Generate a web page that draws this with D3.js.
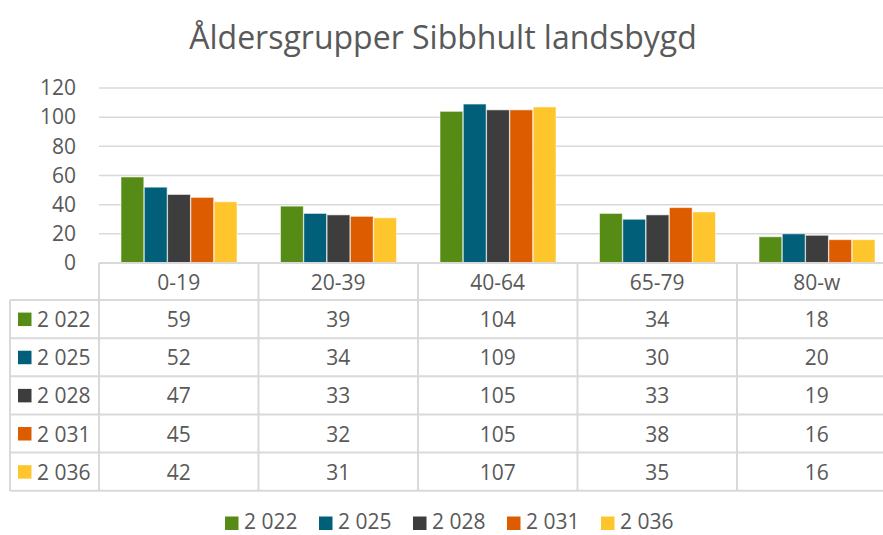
<!DOCTYPE html>
<html>
<head>
<meta charset="utf-8">
<script src="https://cdn.jsdelivr.net/npm/d3@7"></script>
<style>
  body { margin: 0; background: #fff; }
  text { font-family: "Open Sans", sans-serif; fill: #595959; }
</style>
</head>
<body>
<div id="chart-holder"></div>
<script>
// data
var categories = ['0-19', '20-39', '40-64', '65-79', '80-w'];
var seriesNames = ['2 022', '2 025', '2 028', '2 031', '2 036'];
var values2022 = [59, 39, 104, 34, 18];
var values2025 = [52, 34, 109, 30, 20];
var values2028 = [47, 33, 105, 33, 19];
var values2031 = [45, 32, 105, 38, 16];
var values2036 = [42, 31, 107, 35, 16];
var yTicks = [0, 20, 40, 60, 80, 100, 120];
var colors = ['#568C15', '#015F7A', '#3D3D3D', '#DE5C00', '#FFC52D'];

var seriesValues = [values2022, values2025, values2028, values2031, values2036];

function buildChart(containerId) {
    var width = 883;
    var height = 535;

    // plot area (extends past the right edge, like the original)
    var plotLeft = 99;
    var plotRight = 896.5;
    var plotTop = 88;
    var plotBottom = 263;

    // table geometry
    var tableLeft = 10;
    var headerBottom = 300;
    var rowHeight = 38.15;

    var svg = d3
        .select(containerId)
        .append('svg')
        .attr('width', width)
        .attr('height', height);

    // scales
    var x = d3
        .scaleBand()
        .domain(categories)
        .range([plotLeft, plotRight])
        .padding(0);

    var xInner = d3
        .scaleBand()
        .domain(seriesNames)
        .range([22, 138])
        .paddingInner(0.02);

    var y = d3
        .scaleLinear()
        .domain([0, 120])
        .range([plotBottom, plotTop]);

    // gridlines
    svg
        .append('g')
        .selectAll('line')
        .data(yTicks.slice(1))
        .enter()
        .append('line')
        .attr('x1', plotLeft)
        .attr('x2', plotRight)
        .attr('y1', function(d) { return y(d); })
        .attr('y2', function(d) { return y(d); })
        .attr('stroke', '#D9D9D9')
        .attr('stroke-width', 1.5);

    // y axis labels
    var yAxis = d3.axisLeft(y).tickValues(yTicks).tickSize(0).tickPadding(0);
    var yg = svg
        .append('g')
        .attr('class', 'y-axis')
        .attr('transform', 'translate(76,0)')
        .call(yAxis);
    yg.select('.domain').remove();
    yg.selectAll('text')
        .style('font-size', '21px')
        .attr('fill', '#595959');

    // bars
    seriesNames.forEach(function(name, si) {
        svg
            .append('g')
            .selectAll('rect')
            .data(seriesValues[si])
            .enter()
            .append('rect')
            .attr('x', function(d, i) { return x(categories[i]) + xInner(name); })
            .attr('y', function(d) { return y(d); })
            .attr('width', xInner.bandwidth())
            .attr('height', function(d) { return plotBottom - y(d); })
            .attr('fill', colors[si])
            .attr('stroke', 'rgba(255,255,255,0.55)')
            .attr('stroke-width', 1);
    });

    // data table lines
    var tableBottom = headerBottom + rowHeight * seriesNames.length;
    var lines = svg.append('g').attr('stroke', '#D9D9D9').attr('stroke-width', 2);

    lines.append('line')
        .attr('x1', plotLeft).attr('x2', plotRight)
        .attr('y1', plotBottom).attr('y2', plotBottom);

    d3.range(seriesNames.length + 1).forEach(function(r) {
        var yy = headerBottom + r * rowHeight;
        lines.append('line')
            .attr('x1', tableLeft).attr('x2', plotRight)
            .attr('y1', yy).attr('y2', yy);
    });

    categories.forEach(function(c) {
        lines.append('line')
            .attr('x1', x(c)).attr('x2', x(c))
            .attr('y1', plotBottom).attr('y2', tableBottom);
    });
    lines.append('line')
        .attr('x1', plotRight).attr('x2', plotRight)
        .attr('y1', plotBottom).attr('y2', tableBottom);
    lines.append('line')
        .attr('x1', tableLeft).attr('x2', tableLeft)
        .attr('y1', headerBottom).attr('y2', tableBottom);

    // category labels
    svg
        .append('g')
        .selectAll('text')
        .data(categories)
        .enter()
        .append('text')
        .attr('x', function(d) { return x(d) + x.bandwidth() / 2; })
        .attr('y', (plotBottom + headerBottom) / 2)
        .attr('text-anchor', 'middle')
        .attr('dominant-baseline', 'central')
        .style('font-size', '21px')
        .text(function(d) { return d; });

    // table rows
    seriesNames.forEach(function(name, si) {
        var cy = headerBottom + rowHeight * si + rowHeight / 2;
        var row = svg.append('g');

        row.append('rect')
            .attr('x', 18)
            .attr('y', cy - 6.5)
            .attr('width', 13.5)
            .attr('height', 13.5)
            .attr('fill', colors[si]);

        row.append('text')
            .attr('x', 37)
            .attr('y', cy)
            .attr('dominant-baseline', 'central')
            .style('font-size', '21px')
            .text(name);

        row.selectAll('.val')
            .data(seriesValues[si])
            .enter()
            .append('text')
            .attr('class', 'val')
            .attr('x', function(d, i) { return x(categories[i]) + x.bandwidth() / 2; })
            .attr('y', cy)
            .attr('text-anchor', 'middle')
            .attr('dominant-baseline', 'central')
            .style('font-size', '21px')
            .text(function(d) { return d; });
    });

    // legend
    var legendX = d3
        .scalePoint()
        .domain(seriesNames)
        .range([225, 601]);

    var legend = svg
        .append('g')
        .selectAll('g')
        .data(seriesNames)
        .enter()
        .append('g')
        .attr('transform', function(d) { return 'translate(' + legendX(d) + ',0)'; });

    legend.append('rect')
        .attr('x', 0)
        .attr('y', 516.5)
        .attr('width', 13.5)
        .attr('height', 13.5)
        .attr('fill', function(d, i) { return colors[i]; });

    legend.append('text')
        .attr('x', 19)
        .attr('y', 529)
        .style('font-size', '21px')
        .text(function(d) { return d; });

    // title
    svg
        .append('text')
        .attr('x', 443)
        .attr('y', 49)
        .attr('text-anchor', 'middle')
        .style('font-size', '32px')
        .text('Åldersgrupper Sibbhult landsbygd');
}

buildChart('#chart-holder');
</script>
</body>
</html>
